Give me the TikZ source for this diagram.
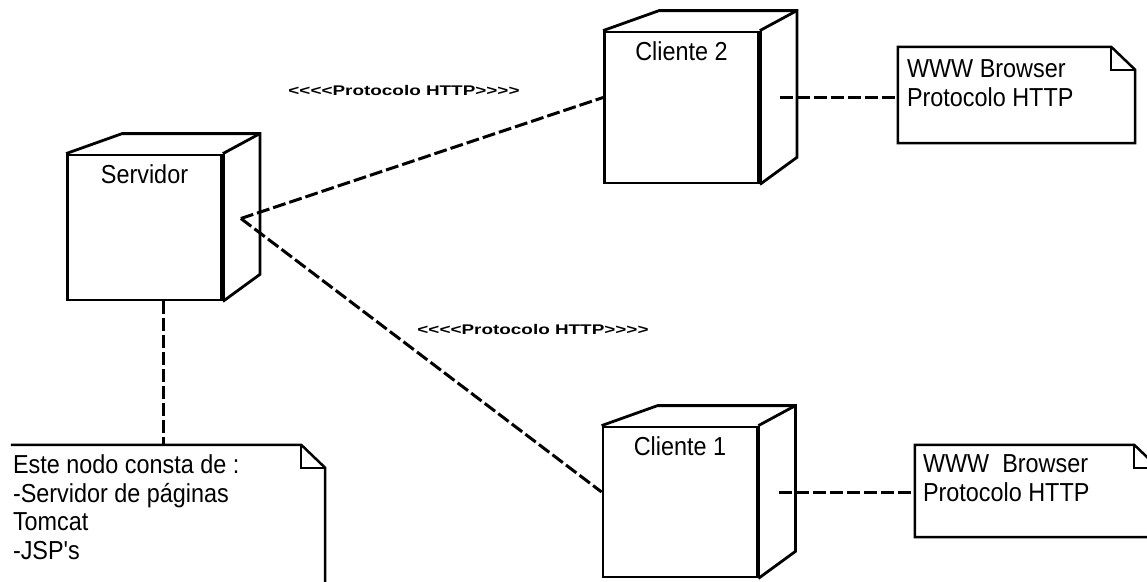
\documentclass[tikz,border=0pt]{standalone}
\usepackage{fontspec}
\setmainfont{Liberation Sans}
\newfontfamily\diagfont[FakeStretch=0.9]{Liberation Sans}
\newfontfamily\linkfont[FakeStretch=1.35]{Liberation Sans}
\usetikzlibrary{calc}
\tikzset{
  deploy node/.style={
    draw,
    line width=2.8pt,
    rectangle,
    inner sep=0pt,
    minimum width=154,
    minimum height=148,
  },
  node title/.style={
    anchor=north,
    inner sep=0pt,
    yshift=-11,
    font=\diagfont\fontsize{26}{28}\selectfont,
  },
  depth line/.style={
    line width=2.8pt,
    line join=miter,
  },
  note/.style={
    rectangle,
    inner sep=0pt,
  },
  note text/.style={
    anchor=north west,
    align=left,
    inner sep=0pt,
    font=\diagfont\fontsize{26}{28.5}\selectfont,
  },
  note line/.style={
    line width=2.5pt,
  },
  link/.style={
    line width=3pt,
    dash pattern=on 13pt off 4pt,
  },
  link label/.style={
    inner sep=0pt,
    font=\linkfont\bfseries\fontsize{14}{16}\selectfont,
  },
}

\begin{document}
\begin{tikzpicture}[x=1pt, y=-1pt]
  \useasboundingbox (0,0) rectangle (1147,581);
  % deployment nodes
  \node[deploy node, minimum height=145,
    label={[node title]north:Servidor}] (srv) at (144.5,227.5) {};
  \node[deploy node, minimum height=151,
    label={[node title]north:Cliente 2}] (cl2) at (681.5,107.5) {};
  \node[deploy node, minimum height=150,
    label={[node title]north:Cliente 1}] (cl1) at (680,502) {};
  \foreach \n in {srv,cl2,cl1} {
    \draw[depth line] (\n.north west) -- ++(56,-20)
      -- ([shift={(37,-20)}]\n.north east)
      -- ([shift={(37,-27)}]\n.south east) -- (\n.south east);
    \draw[depth line] (\n.north east) -- ++(37,-20);
    \draw[line width=4pt] (\n.north east) -- (\n.south east);
  }
  % notes
  \node[note, minimum width=237, minimum height=96,
    label={[note text, xshift=9, yshift=-13]north west:{WWW Browser\\Protocolo HTTP}}]
    (nt2) at (1016.5,95) {};
  \node[note, minimum width=243, minimum height=92,
    label={[note text, xshift=8, yshift=-10]north west:{WWW\ \ Browser\\Protocolo HTTP}}]
    (nt1) at (1036.5,491) {};
  \node[note, minimum width=314, minimum height=165,
    label={[note text, xshift=2, yshift=-10]north west:{Este nodo consta de :\\-Servidor de páginas\\Tomcat\\-JSP's}}]
    (ntsrv) at (168,527.5) {};
  \foreach \n in {nt2,nt1} {
    \draw[note line] (\n.south west) -- (\n.north west)
      -- ([shift={(-24,0)}]\n.north east) -- ([shift={(0,23)}]\n.north east)
      -- (\n.south east) -- cycle;
    \draw[note line] ([shift={(-24,0)}]\n.north east) |- ([shift={(0,23)}]\n.north east);
  }
  \draw[note line] (ntsrv.north west) -- ([shift={(-24,0)}]ntsrv.north east)
    -- ([shift={(0,23)}]ntsrv.north east) -- (ntsrv.south east);
  \draw[note line] ([shift={(-24,0)}]ntsrv.north east) |- ([shift={(0,23)}]ntsrv.north east);
  % connectors
  \coordinate (srv port) at ([shift={(18,-9)}]srv.east);
  \coordinate (srv foot) at ([shift={(19,0)}]srv.south);
  \coordinate (cl2 port) at ([shift={(20,-10)}]cl2.east);
  \coordinate (cl1 port) at ([shift={(21,-10)}]cl1.east);
  \draw[link] (srv port) -- ([shift={(0,-10)}]cl2.west);
  \draw[link] (srv port) -- ([shift={(0,-10)}]cl1.west);
  \draw[link] (cl2 port) -- (cl2 port -| nt2.west);
  \draw[link] (cl1 port) -- (cl1 port -| nt1.west);
  \draw[link] (srv foot) -- (srv foot |- ntsrv.north);
  \node[link label] (lbl2) at (404,90) {<<<<Protocolo HTTP>>>>};
  \node[link label] (lbl1) at (533,329) {<<<<Protocolo HTTP>>>>};
\end{tikzpicture}
\end{document}
